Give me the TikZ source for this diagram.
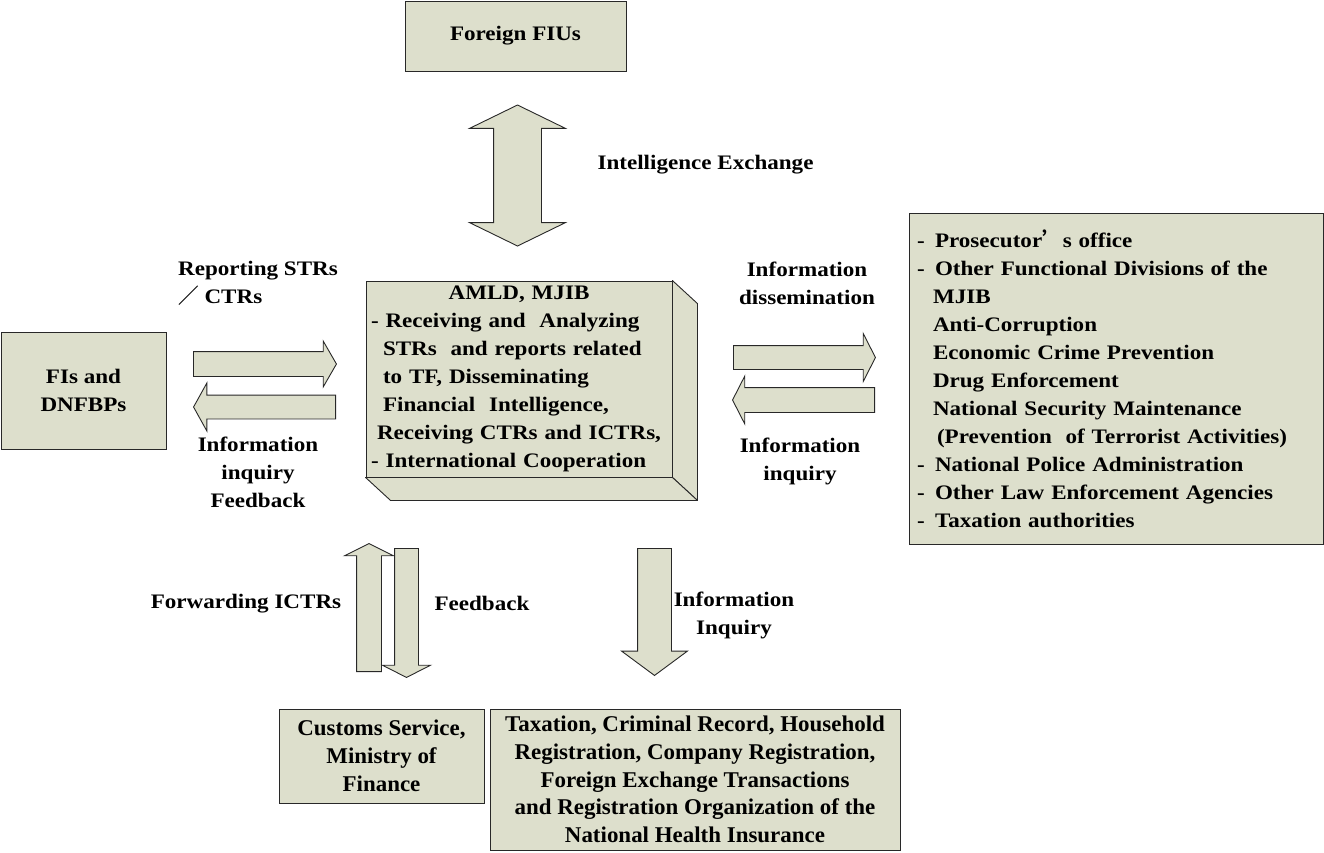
\documentclass[tikz,border=0pt]{standalone}
\usepackage{fontspec}
\setmainfont{Liberation Serif}[FakeStretch=1.12]
\newfontfamily\narrowfont{Liberation Serif}[FakeStretch=1.02]
\newfontfamily\cjk{Noto Sans CJK SC}
\usetikzlibrary{shapes.arrows, shadows, calc}
\definecolor{boxfill}{RGB}{221,223,204}
\definecolor{boxline}{RGB}{40,40,40}
\newcommand{\dashitem}{\makebox[18pt][l]{-}}

\begin{document}
\begin{tikzpicture}[x=1pt, y=-1pt,
        every node/.style={font=\fontsize{20.6}{28}\selectfont\bfseries},
        box/.style={rectangle, draw=boxline, line width=0.9pt, fill=boxfill, inner sep=0pt, align=center,
            drop shadow={shadow xshift=1.2pt, shadow yshift=-1.2pt, fill=black!60}},
        frontface/.style={rectangle, draw=boxline, line width=0.9pt, fill=boxfill, inner sep=0pt},
        cubeface/.style={draw=boxline, line width=0.9pt, fill=boxfill, line join=round},
        barrow/.style={single arrow, draw=boxline, line width=0.9pt, fill=boxfill, inner xsep=0pt,
            single arrow head indent=0pt, anchor=tail},
        varrow/.style={barrow, inner ysep=0pt, inner xsep=#1},
        lbl/.style={inner sep=0pt, align=center}]

        \useasboundingbox (0,0) rectangle (1324,852);

        % Boxes
        \node [box, minimum width=221pt, minimum height=70pt] (ffiu) at (515.5,36) {Foreign FIUs};
        \node [box, minimum width=165pt, minimum height=117pt] (fis) at (83.5,390.5) {FIs and\\DNFBPs};
        \node [box, minimum width=414pt, minimum height=331pt, text width=398pt, align=left] (lea) at (1116,378.5) {
            \dashitem Prosecutor{\cjk ’}s office\\
            \dashitem Other Functional Divisions of the\\
            \hspace*{16pt}MJIB\\
            \hspace*{16pt}Anti-Corruption\\
            \hspace*{16pt}Economic Crime Prevention\\
            \hspace*{16pt}Drug Enforcement\\
            \hspace*{16pt}National Security Maintenance\\
            \hspace*{20pt}(Prevention\ \ of Terrorist Activities)\\
            \dashitem National Police Administration\\
            \dashitem Other Law Enforcement Agencies\\
            \dashitem Taxation authorities
        };
        \node [box, minimum width=205pt, minimum height=94pt, font=\fontsize{22.5}{28}\narrowfont\bfseries] (customs) at (381.5,756) {Customs Service,\\Ministry of\\Finance};
        \node [box, minimum width=410pt, minimum height=141pt, font=\fontsize{22.5}{27.8}\narrowfont\bfseries] (records) at (695,779.5) {Taxation, Criminal Record, Household\\Registration, Company Registration,\\Foreign Exchange Transactions\\and Registration Organization of the\\National Health Insurance};

        % Cube
        \node [frontface, minimum width=306pt, minimum height=196pt, text width=296pt, align=left] (amld) at (519,379) {
            \makebox[296pt]{AMLD, MJIB}\\
            - Receiving and\ \ Analyzing\\
            \hspace*{12pt}STRs\ \ and reports related\\
            \hspace*{12pt}to TF, Disseminating\\
            \hspace*{12pt}Financial\ \ Intelligence,\\
            \hspace*{6pt}Receiving CTRs and ICTRs,\\
            - International Cooperation
        };
        \draw [cubeface] (amld.north east) -- ++(25,23) -- ($(amld.south east)+(25,23)$) -- (amld.south east) -- cycle;
        \draw [cubeface] (amld.south west) -- (amld.south east) -- ++(25,23) -- ($(amld.south west)+(25,23)$) -- cycle;

        % Block arrows
        \node [double arrow, draw=boxline, line width=0.9pt, fill=boxfill, inner ysep=0pt, inner xsep=23.5pt,
            double arrow head indent=0pt, minimum height=141pt, double arrow head extend=24pt,
            double arrow tip angle=128, shape border rotate=90] (exchange) at (517.5,175.5) {};
        \node [barrow, inner ysep=12pt, minimum height=143pt, single arrow head extend=10.5pt, single arrow tip angle=120] (report) at (193,364) {};
        \node [barrow, inner ysep=11.5pt, minimum height=142pt, single arrow head extend=12pt, single arrow tip angle=122, shape border rotate=180] (feedfi) at (336,407) {};
        \node [barrow, inner ysep=11.5pt, minimum height=142pt, single arrow head extend=12pt, single arrow tip angle=126] (dissem) at (733,357.5) {};
        \node [barrow, inner ysep=12pt, minimum height=142pt, single arrow head extend=11.5pt, single arrow tip angle=126, shape border rotate=180] (inquiry) at (875,400) {};
        \node [varrow=12pt, minimum height=128pt, single arrow head extend=12pt, single arrow tip angle=127, shape border rotate=90] (forward) at (369,672) {};
        \node [varrow=11.5pt, minimum height=129pt, single arrow head extend=12pt, single arrow tip angle=126, shape border rotate=270] (feedcus) at (406.5,548) {};
        \node [varrow=16.5pt, minimum height=127pt, single arrow head extend=16pt, single arrow tip angle=107, shape border rotate=270] (query) at (654.5,548) {};

        % Labels
        \node [lbl] (exchangelbl) at (705.5,165) {Intelligence Exchange};
        \node [lbl, anchor=west, align=left] (reportlbl) at (178,283.5) {Reporting STRs\\{\cjk ／} CTRs};
        \node [lbl] (feedfilbl) at (258,472) {Information\\inquiry\\Feedback};
        \node [lbl] (dissemlbl) at (807,283.5) {Information\\dissemination};
        \node [lbl] (inquirylbl) at (800,461) {Information\\inquiry};
        \node [lbl] (forwardlbl) at (246,604) {Forwarding ICTRs};
        \node [lbl] (feedcuslbl) at (482,603) {Feedback};
        \node [lbl] (querylbl) at (734,615) {Information\\Inquiry};

    \end{tikzpicture}
\end{document}
